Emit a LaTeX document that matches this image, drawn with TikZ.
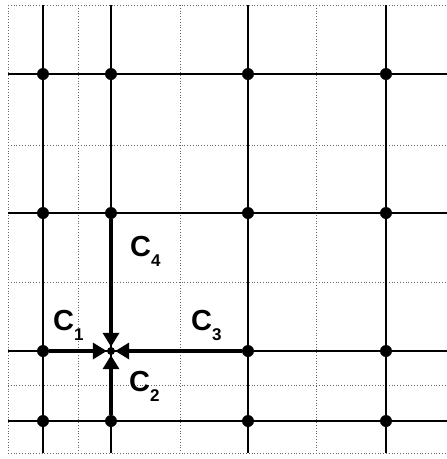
\documentclass[tikz,border=0pt]{standalone}
\usepackage{fontspec}
\setmainfont{Liberation Sans}
\usetikzlibrary{arrows.meta}
\begin{document}
\begin{tikzpicture}[x=1pt,y=-1pt,
  gridline/.style={black!60,dotted,line width=0.8pt},
  mainline/.style={black,line width=1.7pt},
  pathline/.style={black,line width=3.8pt},
  dot/.style={circle,fill=black,inner sep=0pt,minimum size=12pt},
  cdot/.style={circle,fill=black,inner sep=0pt,minimum size=8pt},
  lab/.style={font=\fontsize{29}{29}\selectfont\bfseries,inner sep=0pt},
  sub/.style={},
  tip/.style={-{Triangle[length=14pt,width=16pt]}}]
\useasboundingbox (0,0) rectangle (447,459);
\fill[white] (0,0) rectangle (447,459);
% dotted grid
\foreach \x in {8,78,180,316} \draw[gridline] (\x,5) -- (\x,453);
\foreach \y in {5,145,282,385,453} \draw[gridline] (8,\y) -- (447,\y);
% solid grid
\foreach \x in {43,111,248,386} \draw[mainline] (\x,5) -- (\x,453);
\foreach \y in {74,213,351,421} \draw[mainline] (8,\y) -- (447,\y);
% dots
\foreach \x/\i in {43/1,111/2,248/3,386/4}{
  \foreach \y/\j in {74/1,213/2,421/4}{
    \node[dot] (n\i\j) at (\x,\y) {};
  }
}
\node[dot] (n13) at (43,351) {};
\node[dot] (n33) at (248,351) {};
\node[dot] (n43) at (386,351) {};
\node[cdot] (c) at (111,351) {};
% thick paths with arrows
\draw[pathline,tip] (n22) -- (c);
\draw[pathline,tip] (n13) -- (c);
\draw[pathline,tip] (n33) -- (c);
\draw[pathline,tip] (n24) -- (c);
% labels
\newcommand{\subdig}[1]{\raisebox{-10pt}{\fontsize{17}{17}\selectfont #1}}
\node[lab,anchor=north west] (l4) at (130,236) {C\subdig{4}};
\node[lab,anchor=north west] (l1) at (53,310) {C\subdig{1}};
\node[lab,anchor=north west] (l3) at (191,310) {C\subdig{3}};
\node[lab,anchor=north west] (l2) at (129,371) {C\subdig{2}};
\end{tikzpicture}
\end{document}
